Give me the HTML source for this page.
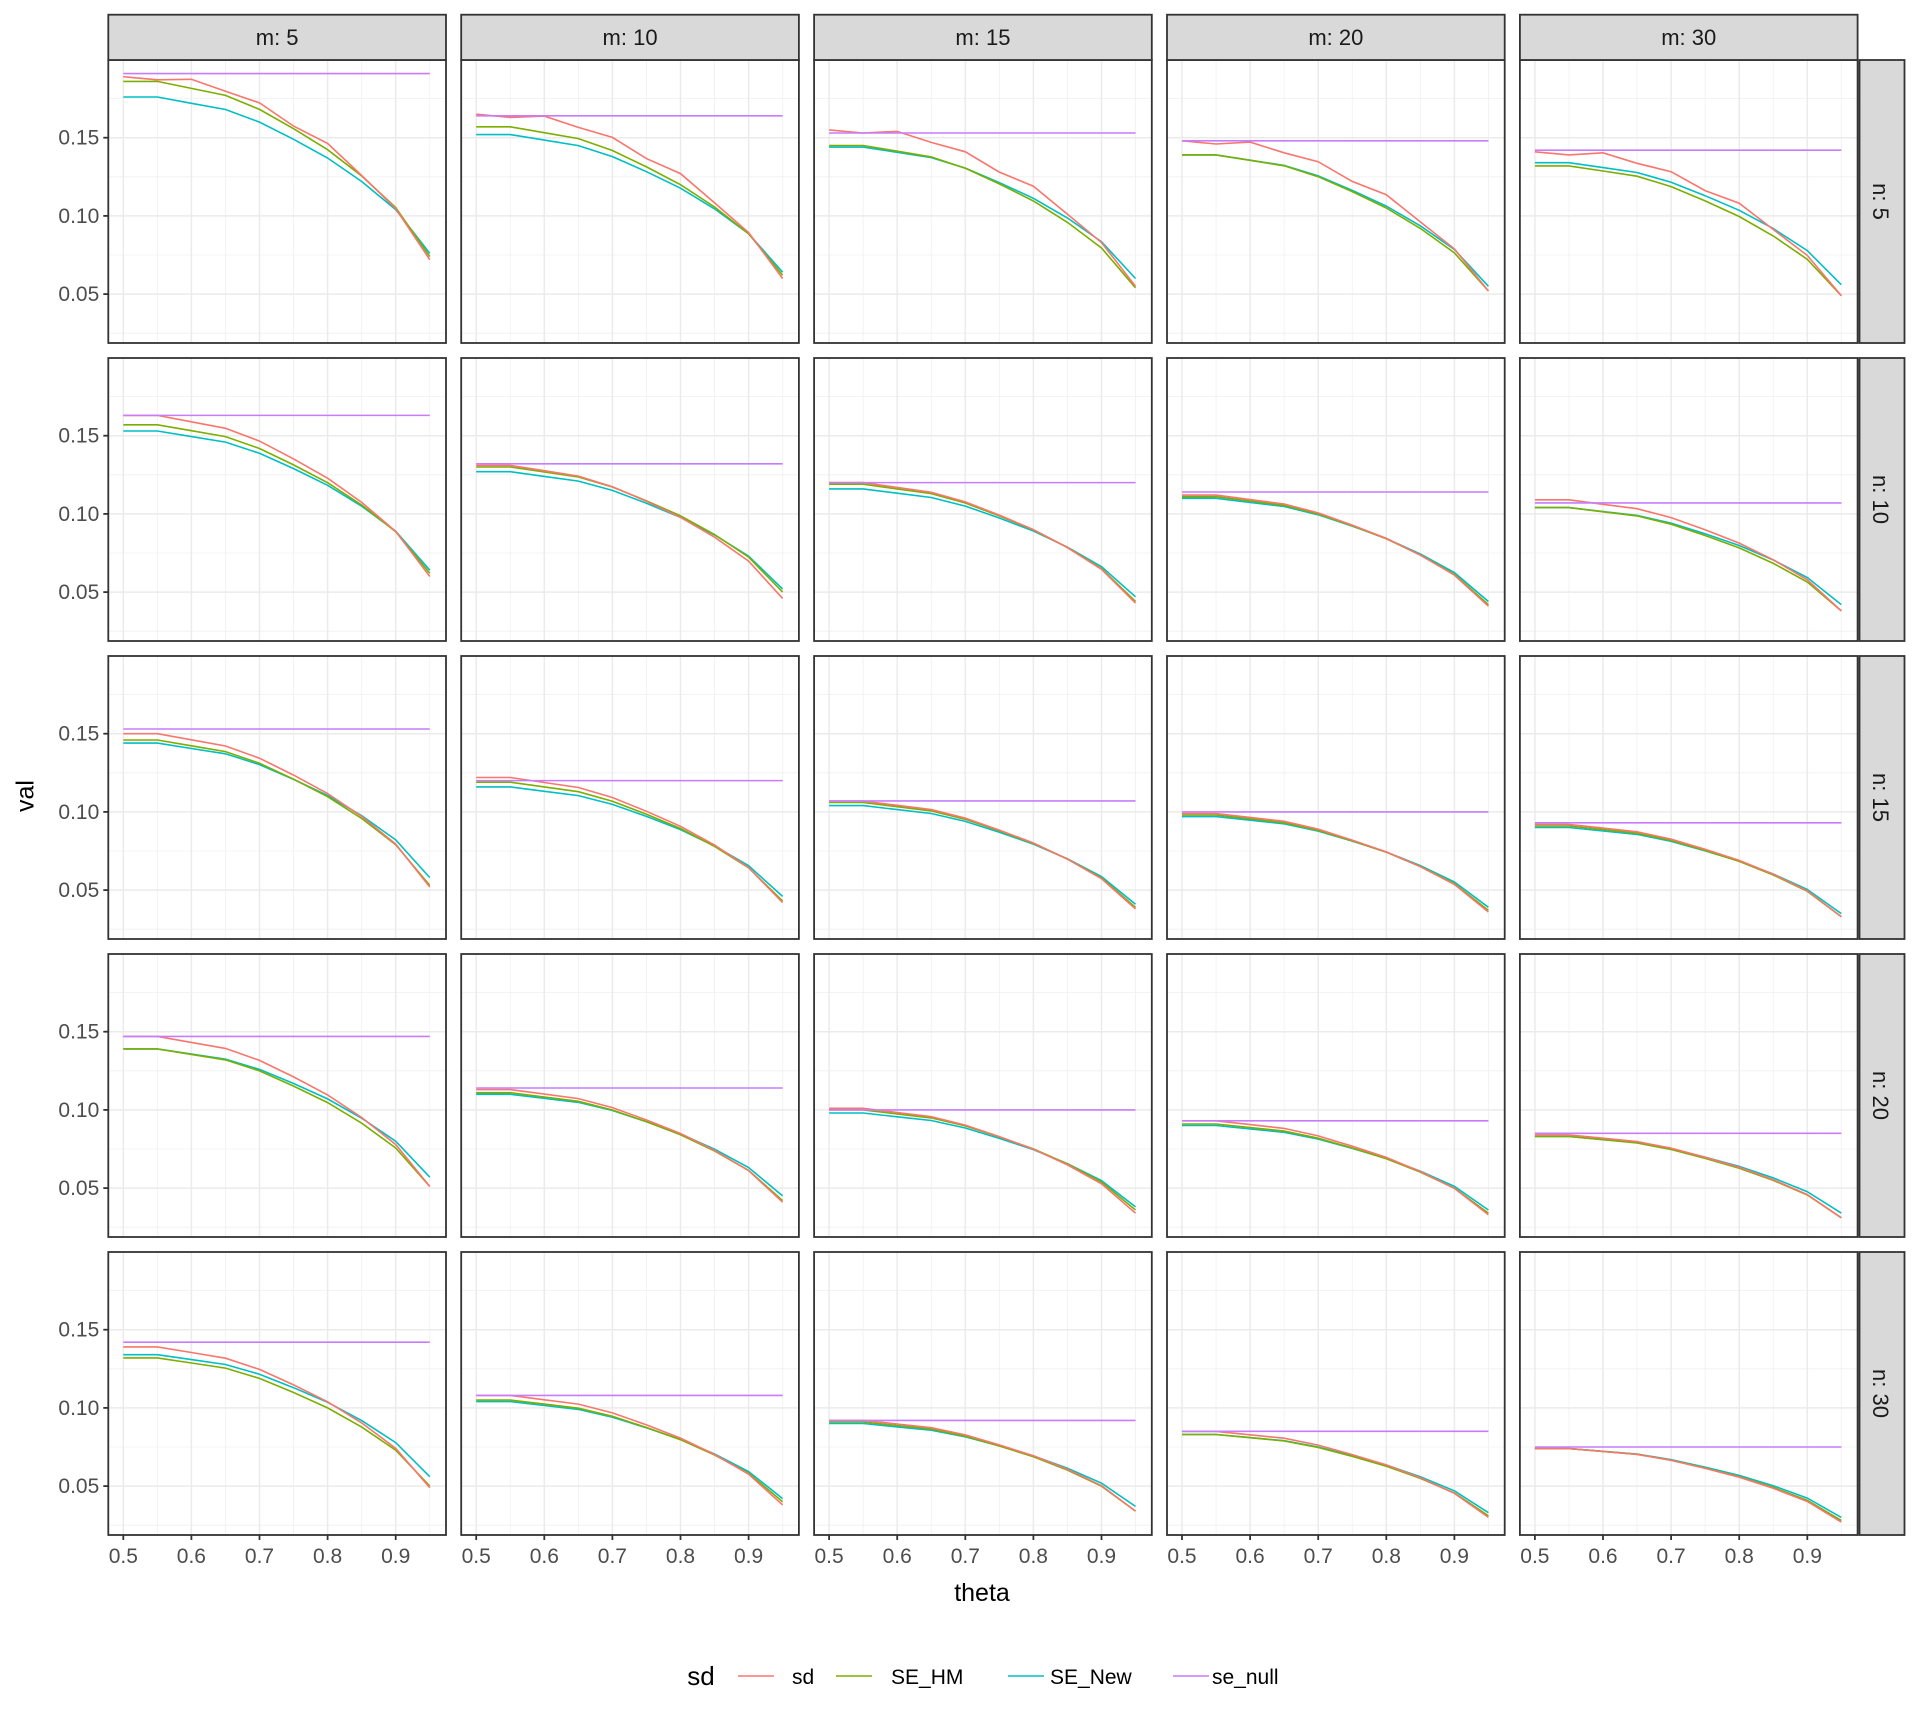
<!DOCTYPE html>
<html><head><meta charset="utf-8"><style>
html,body{margin:0;padding:0;background:#fff;}
svg{display:block;font-family:"Liberation Sans",Arial,sans-serif;}
</style></head><body>
<svg id="s" width="1920" height="1728" xmlns="http://www.w3.org/2000/svg">
<rect width="1920" height="1728" fill="#fff"/>
<text x="27" y="796" font-size="25" fill="#000" text-anchor="middle" transform="rotate(-90 27 796)" dominant-baseline="middle">val</text>
<text x="982" y="1601" font-size="25" fill="#000" text-anchor="middle">theta</text>
<text x="701" y="1685" font-size="26" fill="#000" text-anchor="middle">sd</text>
<line x1="738" y1="1676" x2="774" y2="1676" stroke="#F8766D" stroke-width="1.6"/>
<text x="792" y="1684" font-size="21" fill="#000">sd</text>
<line x1="836" y1="1676" x2="872" y2="1676" stroke="#7CAE00" stroke-width="1.6"/>
<text x="891" y="1684" font-size="21" fill="#000">SE_HM</text>
<line x1="1008" y1="1676" x2="1044" y2="1676" stroke="#00BFC4" stroke-width="1.6"/>
<text x="1050" y="1684" font-size="21" fill="#000">SE_New</text>
<line x1="1173" y1="1676" x2="1209" y2="1676" stroke="#C77CFF" stroke-width="1.6"/>
<text x="1212" y="1684" font-size="21" fill="#000">se_null</text>
<g id="g"></g>
</svg>
<script>
var D=[
[[.191,.189,.072,.186,.074,.176,.076],[.164,.165,.060,.157,.062,.152,.064],[.153,.155,.055,.145,.054,.144,.060],[.148,.148,.052,.139,.052,.139,.055],[.142,.141,.049,.132,.049,.134,.056]],
[[.163,.163,.060,.157,.062,.153,.064],[.132,.131,.046,.130,.050,.127,.052],[.120,.120,.043,.119,.044,.116,.047],[.114,.112,.041,.111,.042,.110,.044],[.107,.109,.038,.104,.038,.104,.042]],
[[.153,.150,.052,.146,.053,.144,.058],[.120,.122,.042,.119,.043,.116,.046],[.107,.107,.038,.106,.039,.104,.041],[.100,.099,.036,.098,.037,.097,.039],[.093,.092,.033,.091,.033,.090,.035]],
[[.147,.147,.051,.139,.051,.139,.057],[.114,.113,.041,.111,.042,.110,.045],[.100,.101,.034,.100,.036,.098,.038],[.093,.093,.033,.091,.034,.090,.036],[.085,.084,.031,.083,.031,.083,.034]],
[[.142,.139,.049,.132,.050,.134,.056],[.108,.108,.038,.105,.040,.104,.042],[.092,.092,.034,.091,.034,.090,.037],[.085,.085,.030,.083,.031,.083,.033],[.075,.074,.027,.074,.028,.074,.030]]];
var h=[1,1,.96,.92,.84,.73,.61,.46,.28,0];
var sdb=[0,-.002,.003,.0,.002,.0,.003,0,0,0];
var ns=[5,10,15,20,30],ms=[5,10,15,20,30];
var o='';
var W=337.7,H=283,X0=108.3,Y0=60,SX=352.9,SY=298;
function xp(L,t){return L+15+(t-0.5)*681;}
for(var r=0;r<5;r++){var T=Y0+r*SY;
 function yp(v){return T+77.7+(0.15-v)*1564;}
 for(var c=0;c<5;c++){var L=X0+c*SX;
  o+='<rect x="'+L+'" y="'+T+'" width="'+W+'" height="'+H+'" fill="#fff"/>';
  [0.025,0.075,0.125,0.175].forEach(function(v){o+='<line x1="'+L+'" x2="'+(L+W)+'" y1="'+yp(v)+'" y2="'+yp(v)+'" stroke="#F0F0F0" stroke-width="0.8"/>';});
  [0.55,0.65,0.75,0.85,0.95].forEach(function(v){o+='<line y1="'+T+'" y2="'+(T+H)+'" x1="'+xp(L,v)+'" x2="'+xp(L,v)+'" stroke="#F0F0F0" stroke-width="0.8"/>';});
  [0.05,0.10,0.15].forEach(function(v){o+='<line x1="'+L+'" x2="'+(L+W)+'" y1="'+yp(v)+'" y2="'+yp(v)+'" stroke="#EBEBEB" stroke-width="1.5"/>';});
  [0.5,0.6,0.7,0.8,0.9].forEach(function(v){o+='<line y1="'+T+'" y2="'+(T+H)+'" x1="'+xp(L,v)+'" x2="'+xp(L,v)+'" stroke="#EBEBEB" stroke-width="1.5"/>';});
  var d=D[r][c];
  var ser=[[d[5],d[6],'#00BFC4',0],[d[3],d[4],'#7CAE00',0],[d[1],d[2],'#F8766D',1]];
  ser.forEach(function(s){var p='';for(var i=0;i<10;i++){var v=s[1]+(s[0]-s[1])*h[i];if(s[3]&&r==0)v+=sdb[i];p+=(i?'L':'M')+xp(L,0.5+i*0.05).toFixed(1)+' '+yp(v).toFixed(1);}
   o+='<path d="'+p+'" fill="none" stroke="'+s[2]+'" stroke-width="1.6"/>';});
  o+='<line x1="'+xp(L,0.5)+'" x2="'+xp(L,0.95)+'" y1="'+yp(d[0])+'" y2="'+yp(d[0])+'" stroke="#C77CFF" stroke-width="1.6"/>';
  o+='<rect x="'+L+'" y="'+T+'" width="'+W+'" height="'+H+'" fill="none" stroke="#333" stroke-width="1.8"/>';
  if(r==0){o+='<rect x="'+L+'" y="14.7" width="'+W+'" height="45.3" fill="#D9D9D9" stroke="#333" stroke-width="1.8"/>';
   o+='<text x="'+(L+W/2)+'" y="45" font-size="22" fill="#1a1a1a" text-anchor="middle">m: '+ms[c]+'</text>';}
  if(c==0){[0.05,0.10,0.15].forEach(function(v){o+='<line x1="'+(L-5)+'" x2="'+L+'" y1="'+yp(v)+'" y2="'+yp(v)+'" stroke="#333" stroke-width="1.8"/>';
   o+='<text x="'+(L-9)+'" y="'+(yp(v)+7)+'" font-size="21" fill="#4D4D4D" text-anchor="end">'+v.toFixed(2)+'</text>';});}
  if(r==4){[0.5,0.6,0.7,0.8,0.9].forEach(function(v){o+='<line y1="'+(T+H)+'" y2="'+(T+H+5)+'" x1="'+xp(L,v)+'" x2="'+xp(L,v)+'" stroke="#333" stroke-width="1.8"/>';
   o+='<text x="'+xp(L,v)+'" y="'+(T+H+28)+'" font-size="21" fill="#4D4D4D" text-anchor="middle">'+v.toFixed(1)+'</text>';});}
 }
 o+='<rect x="1859.5" y="'+T+'" width="45" height="'+H+'" fill="#D9D9D9" stroke="#333" stroke-width="1.8"/>';
 var cy=T+H/2;
 o+='<text x="1879" y="'+cy+'" font-size="22" fill="#1a1a1a" text-anchor="middle" dominant-baseline="middle" transform="rotate(90 1879 '+cy+')">n: '+ns[r]+'</text>';
}
document.getElementById('g').innerHTML=o;
</script>
</body></html>
